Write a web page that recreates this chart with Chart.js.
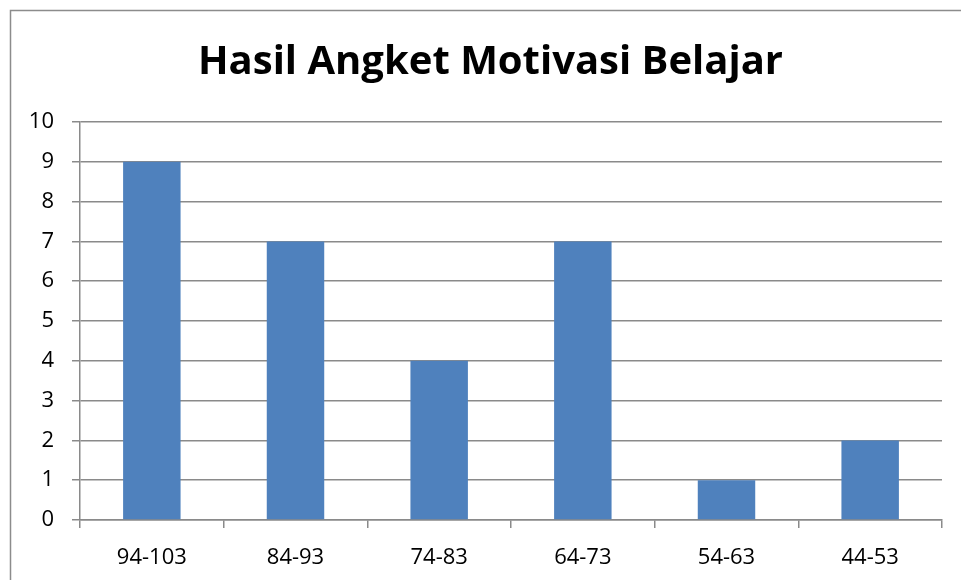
<!DOCTYPE html>
<html>
<head>
<meta charset="utf-8">
<script src="https://cdn.jsdelivr.net/npm/chart.js@4/dist/chart.umd.min.js"></script>
<style>
    html, body { margin: 0; padding: 0; background: #ffffff; }
    #wrap { width: 961px; height: 580px; }
</style>
</head>
<body>
<div id="wrap"><canvas id="angket" width="961" height="580"></canvas></div>
<script>
const categories = ['94-103', '84-93', '74-83', '64-73', '54-63', '44-53'];
const frequencies = [9, 7, 4, 7, 1, 2];
const yTicks = [0, 1, 2, 3, 4, 5, 6, 7, 8, 9, 10];
const chartTitle = 'Hasil Angket Motivasi Belajar';

const gridColor = '#8a8a8a';
const fontFamily = "'Open Sans', 'Liberation Sans', sans-serif";

// Outer frame of the chart box (only left and top edges are visible in the picture)
const frame = {
    id: 'frame',
    beforeDraw(chart) {
        const ctx = chart.ctx;
        ctx.save();
        ctx.strokeStyle = '#8c8c8c';
        ctx.lineWidth = 1.5;
        ctx.beginPath();
        ctx.moveTo(10.5, chart.height);
        ctx.lineTo(10.5, 10.5);
        ctx.lineTo(chart.width, 10.5);
        ctx.stroke();
        ctx.restore();
    }
};

// Title is centred on the framed box rather than the canvas, so draw it here
const boxTitle = {
    id: 'boxTitle',
    afterDraw(chart) {
        const ctx = chart.ctx;
        ctx.save();
        ctx.fillStyle = '#000000';
        ctx.font = 'bold 40px ' + fontFamily;
        ctx.textAlign = 'center';
        ctx.textBaseline = 'middle';
        ctx.fillText(chartTitle, chart.width / 2 + 10, 63);
        ctx.restore();
    }
};

new Chart(document.getElementById('angket'), {
    type: 'bar',
    data: {
        labels: categories,
        datasets: [{
            data: frequencies,
            backgroundColor: '#4f81bd',
            borderWidth: 0,
            barPercentage: 0.4,
            categoryPercentage: 1.0
        }]
    },
    options: {
        responsive: false,
        animation: false,
        layout: { padding: { left: 0, right: 19, top: 122, bottom: 0 } },
        plugins: {
            legend: { display: false },
            tooltip: { enabled: false },
            title: { display: false }
        },
        scales: {
            x: {
                offset: true,
                afterFit(scale) { scale.height = 60; },
                grid: {
                    offset: true,
                    drawOnChartArea: false,
                    drawTicks: true,
                    tickLength: 8,
                    color: gridColor,
                    lineWidth: 1.5
                },
                border: { color: gridColor, width: 1.5 },
                ticks: {
                    color: '#000000',
                    padding: 17,
                    font: { family: fontFamily, size: 22 }
                }
            },
            y: {
                min: 0,
                max: 10,
                afterFit(scale) { scale.width = 80; },
                afterBuildTicks(scale) { scale.ticks = yTicks.map(v => ({ value: v })); },
                grid: {
                    color: gridColor,
                    lineWidth: 1.5,
                    tickLength: 8
                },
                border: { color: gridColor, width: 1.5 },
                ticks: {
                    color: '#000000',
                    padding: 18,
                    font: { family: fontFamily, size: 22 }
                }
            }
        }
    },
    plugins: [frame, boxTitle]
});
</script>
</body>
</html>
